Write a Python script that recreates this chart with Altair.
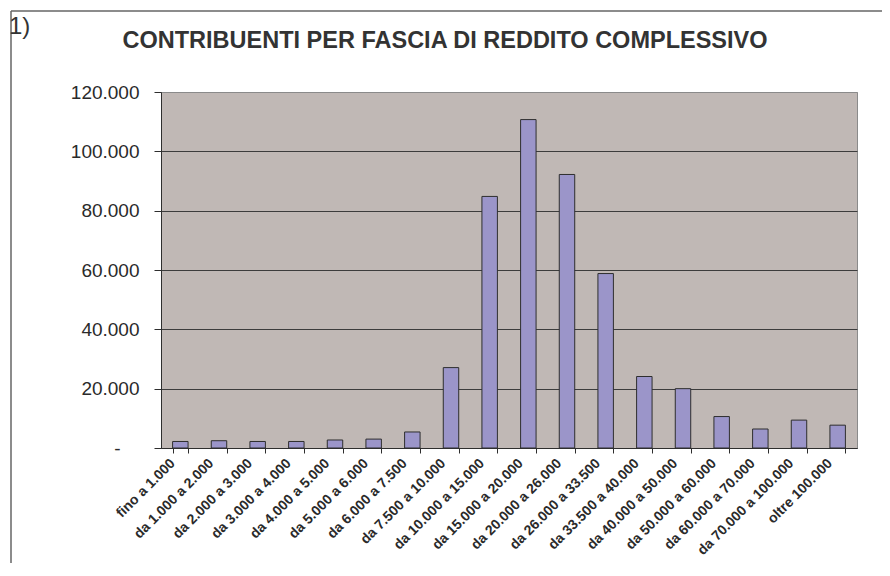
import altair as alt
import pandas as pd

categories = [
    "fino a 1.000", "da 1.000 a 2.000", "da 2.000 a 3.000", "da 3.000 a 4.000",
    "da 4.000 a 5.000", "da 5.000 a 6.000", "da 6.000 a 7.500", "da 7.500 a 10.000",
    "da 10.000 a 15.000", "da 15.000 a 20.000", "da 20.000 a 26.000", "da 26.000 a 33.500",
    "da 33.500 a 40.000", "da 40.000 a 50.000", "da 50.000 a 60.000", "da 60.000 a 70.000",
    "da 70.000 a 100.000", "oltre 100.000",
]
contribuenti = [2200, 2450, 2200, 2200, 2700, 3000, 5400, 27100, 84800, 110700,
                92200, 58800, 24100, 20000, 10600, 6400, 9400, 7700]
y_ticks = [0, 20000, 40000, 60000, 80000, 100000, 120000]
title_text = "CONTRIBUENTI PER FASCIA DI REDDITO COMPLESSIVO"
corner_text = "1)"

df = pd.DataFrame({"fascia": categories, "n": contribuenti})
one = pd.DataFrame({"k": [0]})

W, H = 696, 356
PAD = {"left": 153, "top": 84, "right": 25, "bottom": 115}

bars = alt.Chart(df).mark_bar(
    fill="#9B95C9", stroke="#2e2e2e", strokeWidth=1
).encode(
    x=alt.X(
        "fascia:N", sort=None, title=None,
        scale=alt.Scale(paddingInner=0.6, paddingOuter=0.3),
        axis=alt.Axis(
            labelAngle=-45, labelAlign="right", labelBaseline="middle",
            labelFont="Liberation Sans", labelFontSize=14, labelFontWeight="bold",
            labelColor="#2a2a2a", labelPadding=8, labelOffset=-8,
            labelOverlap=False, labelBound=False, labelFlush=False,
            tickBand="extent", tickSize=5, tickColor="#2e2e2e",
            domainColor="#2e2e2e", grid=False,
        ),
    ),
    y=alt.Y(
        "n:Q", title=None,
        scale=alt.Scale(domain=[0, 120000], nice=False),
        axis=alt.Axis(
            values=y_ticks,
            labelExpr="datum.value == 0 ? '-' : format(datum.value / 1000, '.3f')",
            labelFont="Liberation Sans", labelFontSize=19, labelColor="#2a2a2a",
            labelPadding=alt.condition("datum.value == 0", alt.value(34), alt.value(15)),
            tickSize=7, tickColor="#2e2e2e",
            domainColor="#2e2e2e",
            grid=True,
            gridColor=alt.condition("datum.value == 120000", alt.value("#8a8a8a"), alt.value("#3c3c3c")),
            gridWidth=1,
        ),
    ),
)

title_mark = alt.Chart(one).mark_text(
    text=title_text, font="Liberation Sans", fontSize=23.5, fontWeight="bold",
    color="#333333", align="center", baseline="alphabetic",
).encode(x=alt.value(284), y=alt.value(-44))

corner_mark = alt.Chart(one).mark_text(
    text=corner_text, font="Liberation Sans", fontSize=24,
    color="#333333", align="left", baseline="alphabetic",
).encode(x=alt.value(-152), y=alt.value(-58))

frame_top = alt.Chart(one).mark_rule(color="#666666", strokeWidth=1.5).encode(
    x=alt.value(-150), x2=alt.value(730), y=alt.value(-81)
)
frame_left = alt.Chart(one).mark_rule(color="#666666", strokeWidth=1.5).encode(
    x=alt.value(-150), y=alt.value(-81), y2=alt.value(480)
)

chart = alt.layer(frame_top, frame_left, corner_mark, bars, title_mark).properties(
    width=W, height=H, padding=PAD,
    autosize=alt.AutoSizeParams(type="none"),
    background="white",
).configure_view(fill="#C0B8B5", stroke="#8a8a8a", strokeWidth=1)

chart.save("out.html", embed_options={"renderer": "svg", "actions": False})
